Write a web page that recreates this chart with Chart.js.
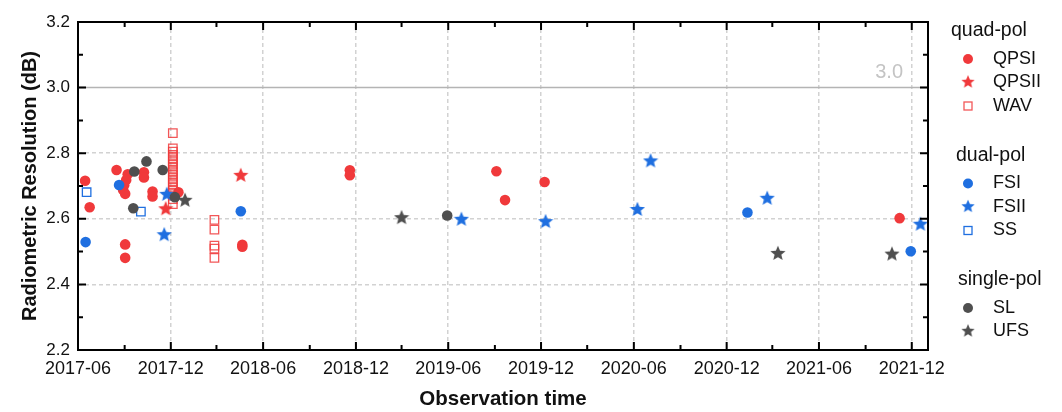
<!DOCTYPE html>
<html>
<head>
<meta charset="utf-8">
<script src="https://cdn.jsdelivr.net/npm/chart.js@4.4.1/dist/chart.umd.min.js"></script>
<style>
  html, body { margin: 0; padding: 0; background: #fff; }
</style>
</head>
<body>
<canvas id="chart" width="1062" height="412"></canvas>
<script>
// ---- data ----
const xTickLabels = ["2017-06", "2017-12", "2018-06", "2018-12", "2019-06",
                     "2019-12", "2020-06", "2020-12", "2021-06", "2021-12"];

const qpsiDates = ["2017-06-15", "2017-06-24", "2017-08-16", "2017-09-07", "2017-09-04",
                   "2017-08-31", "2017-08-29", "2017-09-02", "2017-09-02", "2017-09-02",
                   "2017-10-09", "2017-10-09", "2017-10-26", "2017-10-26", "2017-12-16",
                   "2018-04-21", "2018-04-21", "2018-11-19", "2018-11-19", "2019-09-04",
                   "2019-09-21", "2019-12-08", "2021-11-07"];
const qpsiValues = [2.716, 2.635, 2.749, 2.736, 2.718,
                    2.702, 2.688, 2.676, 2.522, 2.481,
                    2.742, 2.726, 2.683, 2.668, 2.681,
                    2.521, 2.515, 2.748, 2.733, 2.745,
                    2.657, 2.712, 2.602];

const qpsiiDates = ["2017-11-21", "2018-04-18"];
const qpsiiValues = [2.632, 2.734];

const wavDates = ["2017-12-05", "2017-12-05", "2017-12-05", "2017-12-05", "2017-12-05",
                  "2017-12-05", "2017-12-05", "2017-12-05", "2017-12-05", "2017-12-05",
                  "2017-12-05", "2017-12-05", "2017-12-05", "2017-12-05", "2017-12-05",
                  "2017-12-05", "2017-12-05", "2017-12-05",
                  "2018-02-25", "2018-02-25", "2018-02-25", "2018-02-25", "2018-02-25"];
const wavValues = [2.861, 2.815, 2.805, 2.795, 2.785,
                   2.775, 2.765, 2.755, 2.745, 2.735,
                   2.725, 2.715, 2.705, 2.695, 2.685,
                   2.675, 2.660, 2.645,
                   2.597, 2.567, 2.518, 2.509, 2.481];

const fsiDates = ["2017-06-16", "2017-08-21", "2018-04-18", "2021-01-11", "2021-11-29"];
const fsiValues = [2.529, 2.703, 2.623, 2.619, 2.501];

const fsiiDates = ["2017-11-23", "2017-11-18", "2019-06-27", "2019-12-10",
                   "2020-06-08", "2020-07-04", "2021-02-19", "2021-12-18"];
const fsiiValues = [2.676, 2.553, 2.600, 2.593, 2.630, 2.778, 2.664, 2.585];

const ssDates = ["2017-06-18", "2017-10-03"];
const ssValues = [2.681, 2.622];

const slDates = ["2017-09-20", "2017-10-14", "2017-11-15", "2017-09-18", "2017-12-09", "2019-05-30"];
const slValues = [2.744, 2.775, 2.749, 2.632, 2.666, 2.610];

const ufsDates = ["2017-12-29", "2019-03-01", "2021-03-12", "2021-10-23"];
const ufsValues = [2.658, 2.605, 2.496, 2.494];

const refValue = 3.0;

const legendGroups = [
  { title: "quad-pol", items: ["QPSI", "QPSII", "WAV"] },
  { title: "dual-pol", items: ["FSI", "FSII", "SS"] },
  { title: "single-pol", items: ["SL", "UFS"] }
];

// ---- styling ----
const RED = "#f0393b";
const BLUE = "#1f6fe0";
const GRAY = "#4f4f4f";
const FONT = "'Liberation Sans', Arial, sans-serif";

function makeStar(color, size) {
  const c = document.createElement("canvas");
  c.width = size; c.height = size;
  const ctx = c.getContext("2d");
  const r = size / 2, ri = r * 0.44;
  ctx.beginPath();
  for (let i = 0; i < 10; i++) {
    const a = -Math.PI / 2 + i * Math.PI / 5;
    const rr = i % 2 ? ri : r;
    ctx.lineTo(r + rr * Math.cos(a), r * 1.08 + rr * Math.sin(a));
  }
  ctx.closePath();
  ctx.fillStyle = color;
  ctx.fill();
  return c;
}
const redStar = makeStar(RED, 16);
const blueStar = makeStar(BLUE, 16);
const grayStar = makeStar(GRAY, 16);

function pts(dates, values) {
  return dates.map((d, i) => ({ x: Date.parse(d), y: values[i] }));
}

function circleSet(label, dates, values, color, order) {
  return { label, data: pts(dates, values), pointStyle: "circle", pointRadius: 5.3,
           backgroundColor: color, borderWidth: 0, order, _kind: "circle", _color: color };
}
function starSet(label, dates, values, img, color, order) {
  return { label, data: pts(dates, values), pointStyle: img, pointRadius: 7,
           backgroundColor: color, borderWidth: 0, order, _kind: "star", _img: img };
}
function squareSet(label, dates, values, color, order) {
  return { label, data: pts(dates, values), pointStyle: "rect", pointRadius: 6,
           backgroundColor: "rgba(0,0,0,0)", borderColor: color, borderWidth: 1.3,
           order, _kind: "square", _color: color };
}

const datasets = [
  circleSet("SL", slDates, slValues, GRAY, 0),
  starSet("UFS", ufsDates, ufsValues, grayStar, GRAY, 0),
  circleSet("FSI", fsiDates, fsiValues, BLUE, 1),
  starSet("FSII", fsiiDates, fsiiValues, blueStar, BLUE, 1),
  squareSet("SS", ssDates, ssValues, BLUE, 1),
  circleSet("QPSI", qpsiDates, qpsiValues, RED, 2),
  starSet("QPSII", qpsiiDates, qpsiiValues, redStar, RED, 2),
  squareSet("WAV", wavDates, wavValues, "rgba(240,57,59,0.85)", 3)
];

const xMin = Date.parse("2017-06-01");
const xMax = Date.parse("2022-01-02");
const xMajor = xTickLabels.map(s => Date.parse(s + "-01"));

function minorX() {
  const out = [];
  xTickLabels.forEach(s => {
    const [y, m] = s.split("-").map(Number);
    const v = Date.UTC(m + 3 > 12 ? y + 1 : y, (m + 2) % 12, 1);
    if (v < xMax) out.push(v);
  });
  return out;
}

// frame, inward ticks, reference line
const framePlugin = {
  id: "frame",
  afterDatasetsDraw(chart) {
    const { ctx, chartArea: a, scales: { x, y } } = chart;
    ctx.save();
    // reference line
    const ry = y.getPixelForValue(refValue);
    ctx.strokeStyle = "#b4b4b4";
    ctx.lineWidth = 1.5;
    ctx.beginPath(); ctx.moveTo(a.left, ry); ctx.lineTo(a.right, ry); ctx.stroke();
    ctx.fillStyle = "#c4c4c4";
    ctx.font = "20px " + FONT;
    ctx.textAlign = "right";
    ctx.textBaseline = "bottom";
    ctx.fillText(refValue.toFixed(1), a.right - 25, ry - 5);

    ctx.strokeStyle = "#000";
    ctx.lineWidth = 2;
    ctx.beginPath();
    xMajor.forEach(v => {
      const px = x.getPixelForValue(v);
      ctx.moveTo(px, a.bottom); ctx.lineTo(px, a.bottom - 8);
      ctx.moveTo(px, a.top); ctx.lineTo(px, a.top + 8);
    });
    minorX().forEach(v => {
      const px = x.getPixelForValue(v);
      ctx.moveTo(px, a.bottom); ctx.lineTo(px, a.bottom - 5);
      ctx.moveTo(px, a.top); ctx.lineTo(px, a.top + 5);
    });
    for (let i = 0; i <= 10; i++) {
      const py = y.getPixelForValue(2.2 + i * 0.1);
      const len = i % 2 === 0 ? 8 : 5;
      ctx.moveTo(a.left, py); ctx.lineTo(a.left + len, py);
      ctx.moveTo(a.right, py); ctx.lineTo(a.right - len, py);
    }
    ctx.stroke();
    ctx.strokeRect(a.left, a.top, a.right - a.left, a.bottom - a.top);
    ctx.restore();
  }
};

// grouped legend on the right
const groupLegend = {
  id: "groupLegend",
  afterDraw(chart) {
    const { ctx } = chart;
    const byLabel = {};
    chart.data.datasets.forEach(d => { byLabel[d.label] = d; });
    ctx.save();
    ctx.textBaseline = "middle";
    ctx.textAlign = "left";
    ctx.fillStyle = "#111";
    let yy = 31;
    const titleX = [951, 956, 958];
    legendGroups.forEach((g, gi) => {
      ctx.font = "19.5px " + FONT;
      ctx.fillText(g.title, titleX[gi], yy);
      yy += 28;
      g.items.forEach(name => {
        const d = byLabel[name];
        const mx = 968;
        if (d._kind === "circle") {
          ctx.fillStyle = d._color;
          ctx.beginPath(); ctx.arc(mx, yy, 5, 0, Math.PI * 2); ctx.fill();
        } else if (d._kind === "star") {
          ctx.drawImage(d._img, mx - 7, yy - 8, 14, 14);
        } else {
          ctx.strokeStyle = d._color;
          ctx.lineWidth = 1.3;
          ctx.strokeRect(mx - 4, yy - 4, 8, 8);
        }
        ctx.fillStyle = "#111";
        ctx.font = "18px " + FONT;
        ctx.fillText(name, 993, yy);
        yy += 23.5;
      });
      yy += 26;
    });
    ctx.restore();
  }
};

new Chart(document.getElementById("chart"), {
  type: "scatter",
  data: { datasets: datasets },
  options: {
    responsive: false,
    animation: false,
    layout: { padding: { top: 22, right: 134, bottom: 0, left: 0 } },
    plugins: { legend: { display: false }, tooltip: { enabled: false } },
    scales: {
      x: {
        type: "linear",
        min: xMin,
        max: xMax,
        afterBuildTicks: scale => { scale.ticks = xMajor.map(v => ({ value: v })); },
        afterFit: scale => { scale.height = 62; },
        ticks: {
          autoSkip: false, maxRotation: 0, padding: 8,
          color: "#111", font: { family: FONT, size: 18 },
          callback: v => xTickLabels[xMajor.indexOf(v)]
        },
        grid: {
          drawTicks: false, lineWidth: 1.5,
          color: c => (c.index === 0 ? "rgba(0,0,0,0)" : "#d2d2d2")
        },
        border: { display: false, dash: [4, 3] },
        title: {
          display: true, text: "Observation time", color: "#111",
          font: { family: FONT, size: 20.5, weight: "bold" }, padding: { top: 0, bottom: 0 }
        }
      },
      y: {
        min: 2.2,
        max: 3.2,
        afterFit: scale => { scale.width = 78; },
        ticks: {
          stepSize: 0.2, padding: 8, color: "#111",
          font: { family: FONT, size: 17 },
          callback: v => v.toFixed(1)
        },
        grid: {
          drawTicks: false, lineWidth: 1.5,
          color: c => {
            const v = Math.round(c.tick.value * 10) / 10;
            return (v === 2.2 || v === 3.2 || v === refValue) ? "rgba(0,0,0,0)" : "#d2d2d2";
          }
        },
        border: { display: false, dash: [4, 3] },
        title: {
          display: true, text: "Radiometric Resolution (dB)", color: "#111",
          font: { family: FONT, size: 20, weight: "bold" }, padding: { top: 18, bottom: 0 }
        }
      }
    }
  },
  plugins: [framePlugin, groupLegend]
});
</script>
</body>
</html>
